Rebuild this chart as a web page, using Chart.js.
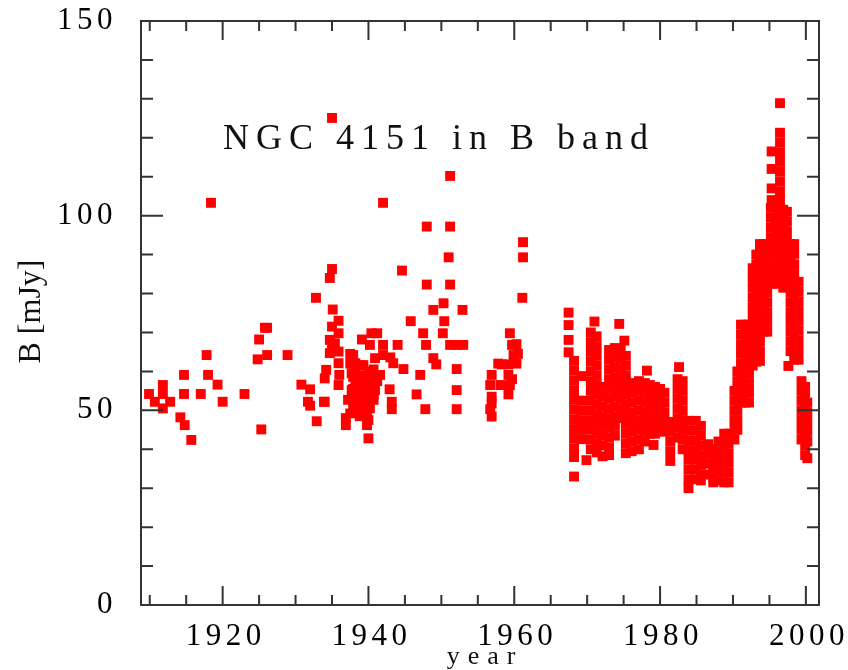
<!DOCTYPE html>
<html>
<head>
<meta charset="utf-8">
<title>NGC 4151 in B band</title>
<script src="https://cdn.jsdelivr.net/npm/chart.js@4.4.1/dist/chart.umd.min.js"></script>
<style>
  html, body { margin: 0; padding: 0; background: #fff; }
</style>
</head>
<body>
<canvas id="mycanvas" width="848" height="670"></canvas>
<script>
// axis setup
var xMin = 1908.8, xMax = 2001.8;
var yMin = 0, yMax = 150;
var xLabelTicks = [1920, 1940, 1960, 1980, 2000];
var xMarks = [1910, 1915, 1920, 1925, 1930, 1935, 1940, 1945, 1950, 1955, 1960, 1965, 1970, 1975, 1980, 1985, 1990, 1995, 2000];
var yLabelTicks = [0, 50, 100, 150];
var yMarks = [10, 20, 30, 40, 50, 60, 70, 80, 90, 100, 110, 120, 130, 140];

// each year holds the B fluxes (mJy) measured around that epoch
var earlyYears = [1909.9, 1910.7, 1911.8, 1912.8, 1914.2, 1914.7, 1914.8, 1915.7, 1917.0, 1917.8,
  1918.0, 1918.4, 1919.3, 1920.0, 1923.0, 1924.8, 1925.0, 1925.3, 1925.8, 1926.1,
  1928.9, 1930.8, 1931.7, 1932.0, 1932.8, 1932.9, 1933.9];
var earlyFlux = [[54.2], [52.2], [56.5, 54.2, 50.5], [52.2], [48.2], [59.1, 54.2], [46.2], [42.4], [54.2], [64.2],
  [59.1], [103.3], [56.6], [52.2], [54.2], [63.1], [68.2], [45.1], [71.2], [71.2, 64.2],
  [64.2], [56.6], [52.2], [55.4, 51.2], [78.9], [47.2], [52.2]];

var plateYears = [1934.0, 1934.2, 1934.7, 1935.0, 1935.1, 1935.4, 1935.9, 1936.0, 1936.9, 1937.2,
  1937.5, 1937.7, 1937.9, 1938.2, 1938.4, 1938.8, 1939.1, 1939.3, 1939.5, 1939.8,
  1940.0, 1940.2, 1940.4, 1940.7, 1940.9, 1941.2, 1941.6, 1942.0, 1942.9, 1943.0,
  1943.2, 1943.4, 1944.0, 1944.6, 1944.8, 1945.8, 1946.6, 1947.1, 1947.5, 1947.8,
  1947.9, 1948.0, 1948.9, 1949.3, 1950.2, 1950.3, 1950.4, 1951.0, 1951.2, 1952.1,
  1952.9, 1953.0, 1956.7, 1956.9, 1957.8, 1958.1, 1958.3, 1959.2, 1959.4, 1959.7,
  1959.9, 1960.3, 1960.5, 1961.1, 1961.2];
var plateFlux = [[58.2, 52.2], [60.4], [84.0, 68.1, 64.7], [125.1, 86.3, 71.5, 66.4], [75.9], [67.2], [73.0, 69.8, 65.1, 62.1, 56.5], [59.1], [48.0, 46.2], [52.7],
  [64.5, 62.0, 49.2], [55.2, 59.5], [64.2, 58.6, 55.5, 53.0, 50.5], [62.1, 60.0, 57.5], [57.0, 54.4, 52.7, 49.5], [56.9, 59.0, 53.5, 51.0, 48.5], [68.2, 61.6], [61.6, 58.5, 55.8, 53.0, 50.5], [53.1, 57.5], [59.0, 57.0, 55.2, 52.5, 49.2, 46.2],
  [47.5, 42.8, 52.0], [66.8, 60.0, 57.8, 55.0, 53.0, 50.5], [69.8, 54.5], [60.5, 58.5, 56.5, 54.0, 52.7], [63.4, 57.8, 55.2], [69.8, 57.5], [59.1], [103.3, 66.8, 64.2], [55.4], [63.6],
  [52.2, 50.3], [62.1], [66.8], [85.9], [60.6], [72.9], [54.1], [59.1], [69.8], [50.3],
  [66.8], [97.2, 82.3], [75.8, 63.4], [61.8], [69.8], [77.5], [72.9], [89.3], [110.2, 97.2, 82.3, 66.8], [66.8, 60.6, 55.2, 50.3],
  [75.8], [66.8], [56.5, 50.3], [59.1, 53.5, 51.8, 48.4], [62.0], [56.5], [61.8], [61.8, 59.1, 54.1], [69.8, 56.5], [66.8, 58.0],
  [64.2], [67.0, 62.0], [64.5], [78.9], [93.2, 89.3]];

var monitorYears = [1967.45, 1968.2, 1969.2, 1969.9, 1970.5, 1971.0, 1971.3, 1972.1, 1973.0, 1973.8,
  1974.4, 1974.6, 1975.1, 1975.3, 1976.1, 1977.1, 1977.9, 1978.2, 1978.6, 1979.1,
  1979.3, 1980.0, 1980.6, 1981.4, 1982.4, 1982.6, 1983.1, 1983.9, 1984.9, 1985.6,
  1986.6, 1987.3, 1988.0, 1988.8];
var monitorFlux = [
  [75.1, 71.9, 68.1, 64.9],
  [62.7, 60.2, 57.7, 55.2, 52.7, 50.2, 47.7, 45.2, 42.7, 40.2, 38.0, 33.0],
  [58.8, 52.5, 50.0, 47.5, 45.0, 42.6],
  [37.2],
  [70.0, 67.5, 65.0, 62.5, 60.0, 57.5, 55.0, 52.5, 50.0, 47.5, 45.0, 42.5, 40.0],
  [72.8],
  [69.0, 66.5, 64.0, 61.5, 59.0, 56.5, 54.0, 51.5, 49.0, 46.5, 44.0, 41.5, 39.2],
  [56.0, 53.5, 51.0, 48.5, 46.0, 43.5, 41.0, 38.2],
  [65.5, 63.0, 60.5, 58.0, 55.5, 53.0, 50.5, 48.0, 45.5, 43.0, 40.5, 38.5],
  [66.0, 63.5, 61.0, 58.5, 56.0, 53.5, 51.0, 48.5, 46.0, 43.5],
  [72.2],
  [65.5, 63.0, 60.5, 58.0, 55.5, 53.0, 50.5, 48.0],
  [67.9],
  [64.0, 61.5, 59.0, 56.5, 54.0, 51.5, 49.0, 46.5, 44.0, 41.5, 39.0],
  [57.0, 54.5, 52.0, 49.5, 47.0, 44.5, 42.0, 39.5],
  [57.5, 55.0, 52.5, 50.0, 47.5, 45.0, 42.5, 40.0],
  [57.0, 54.5, 52.0, 49.5, 47.0, 44.5, 42.0],
  [60.2],
  [56.5, 54.0, 51.5, 49.0, 46.5, 44.0],
  [41.1],
  [56.0, 53.5, 51.0, 48.5, 46.0, 44.0],
  [55.5, 53.0, 50.5, 48.0, 45.5],
  [54.5, 52.0, 49.5, 47.0, 44.5],
  [47.0, 44.5, 42.0, 39.5, 37.0],
  [58.0, 55.5, 53.0, 50.5, 48.0, 45.5, 43.0],
  [61.1],
  [57.5, 55.0, 52.5, 50.0, 47.5, 45.0, 42.5, 40.0],
  [47.3, 44.8, 42.3, 39.8, 37.3, 34.8, 32.3, 30.0],
  [47.3, 44.8, 42.3, 39.8, 37.3, 34.8, 32.3],
  [46.0, 43.5, 41.0, 38.5, 36.0, 33.5, 32.0],
  [41.3, 38.8, 36.3, 33.5],
  [40.0, 37.5, 35.0, 32.5, 31.5],
  [42.0, 39.5, 37.0, 34.5, 32.0],
  [44.0, 41.5, 39.0, 36.5, 34.0, 31.5]];

var outburstYears = [1989.4, 1990.2, 1990.6, 1991.1, 1991.7, 1992.2, 1992.7, 1993.2, 1993.7, 1994.2,
  1994.7, 1995.2, 1995.3, 1995.8, 1996.45, 1996.9, 1997.4, 1997.6, 1997.9, 1998.4,
  1999.0, 1999.4, 1999.9, 2000.2];
var outburstFlux = [
  [44.0, 41.5, 39.0, 36.5, 34.0, 31.5],
  [55.0, 52.5, 50.0, 47.5, 45.0, 42.5],
  [60.0, 57.5, 55.0, 52.5, 50.0, 47.5, 45.0],
  [72.0, 69.5, 67.0, 64.5, 62.0, 59.5, 57.0, 54.5, 52.0],
  [72.0, 69.5, 67.0, 64.5, 62.0, 59.5, 57.0, 54.5, 52.0],
  [72.0, 69.5, 67.0, 64.5, 62.0, 59.5, 57.0, 54.5, 52.0],
  [86.5, 84.0, 81.5, 79.0, 76.5, 74.0, 71.5, 69.0, 66.5, 64.0, 61.5],
  [90.0, 87.5, 85.0, 82.5, 80.0, 77.5, 75.0, 72.5, 70.0, 67.5, 65.0, 62.5],
  [92.7, 90.2, 87.7, 85.2, 82.7, 80.2, 77.7, 75.2, 72.7, 70.2, 67.7, 65.2, 62.7],
  [92.7, 90.2, 87.7, 85.2, 82.7, 80.2, 77.7, 75.2, 72.7, 70.2],
  [92.7, 90.2, 87.7, 85.2, 82.7, 80.2, 77.7, 75.2, 72.7, 70.2],
  [102.0, 99.5, 97.0, 94.5, 92.0, 89.5, 87.0, 84.5, 82.5],
  [116.5, 112.0, 107.0, 104.0],
  [102.0, 99.5, 97.0, 94.5, 92.0, 89.5, 87.0, 84.5, 82.5],
  [128.9, 121.3, 118.8, 116.3, 113.8, 111.3, 108.8, 106.3, 103.8, 101.3, 98.8, 96.3, 93.8, 91.3, 88.8, 86.3, 83.5],
  [101.5, 99.0, 96.5, 94.0, 91.5, 89.0, 86.5, 84.0, 81.5],
  [101.0, 98.5, 96.0, 93.5, 91.0, 88.5, 86.0, 83.5],
  [61.4],
  [92.7, 90.2, 87.7, 85.2, 82.7, 80.2, 77.7, 75.2, 72.7, 70.2, 67.7, 65.2],
  [92.7, 90.2, 87.5, 85.0, 82.5, 80.0, 77.5, 75.0, 72.5, 70.0, 67.5, 65.0, 63.0],
  [83.0, 80.5, 78.0, 75.5, 73.0, 70.5, 68.0, 65.5, 63.0],
  [57.5, 55.0, 52.5, 50.0, 47.5, 45.0, 42.5],
  [56.0, 53.5, 51.0, 48.5, 46.0, 43.5, 41.0, 38.5],
  [52.0, 49.5, 47.0, 44.5, 42.0, 37.7]];

function toPoints(years, flux) {
  var pts = [];
  for (var i in years) {
    for (var j in flux[i]) {
      pts.push({x: years[i], y: flux[i][j]});
    }
  }
  return pts;
}

var points = [].concat(
  toPoints(earlyYears, earlyFlux),
  toPoints(plateYears, plateFlux),
  toPoints(monitorYears, monitorFlux),
  toPoints(outburstYears, outburstFlux)
);

var serif = 'Liberation Serif';

// wide lettering for the tick numbers
var tickSpacing = {
  id: 'tickSpacing',
  beforeDraw: function(chart) {
    chart.ctx.letterSpacing = '4.5px';
  }
};

// box round the plot with inward ticks on all four sides
var frame = {
  id: 'frame',
  afterDatasetsDraw: function(chart) {
    var ctx = chart.ctx, a = chart.chartArea;
    var xs = chart.scales.x, ys = chart.scales.y;
    ctx.save();
    ctx.strokeStyle = '#333';
    ctx.lineWidth = 2;
    ctx.strokeRect(a.left, a.top, a.right - a.left, a.bottom - a.top);
    ctx.beginPath();
    xMarks.forEach(function(v) {
      var px = xs.getPixelForValue(v);
      var len = xLabelTicks.indexOf(v) >= 0 ? 19 : 10;
      ctx.moveTo(px, a.bottom); ctx.lineTo(px, a.bottom - len);
      ctx.moveTo(px, a.top); ctx.lineTo(px, a.top + len);
    });
    yMarks.forEach(function(v) {
      var py = ys.getPixelForValue(v);
      var len = yLabelTicks.indexOf(v) >= 0 ? 22 : 12;
      ctx.moveTo(a.left, py); ctx.lineTo(a.left + len, py);
      ctx.moveTo(a.right, py); ctx.lineTo(a.right - len, py);
    });
    ctx.stroke();
    ctx.restore();
  }
};

// plot caption and axis names
var captions = {
  id: 'captions',
  afterDraw: function(chart) {
    var ctx = chart.ctx;
    var xs = chart.scales.x, ys = chart.scales.y;
    ctx.save();
    ctx.fillStyle = '#111';
    ctx.textBaseline = 'alphabetic';
    ctx.textAlign = 'left';
    ctx.font = '36px "' + serif + '"';
    ctx.letterSpacing = '7px';
    ctx.fillText('NGC 4151 in B band', xs.getPixelForValue(1920.05), ys.getPixelForValue(117));

    ctx.textAlign = 'center';
    ctx.font = '26px "' + serif + '"';
    ctx.letterSpacing = '8px';
    ctx.fillText('year', (xs.left + xs.right) / 2 + 5, 664);

    ctx.font = '32px "' + serif + '"';
    ctx.letterSpacing = '0px';
    ctx.translate(40, 311.5);
    ctx.rotate(-Math.PI / 2);
    ctx.fillText('B [mJy]', 0, 0);
    ctx.restore();
  }
};

var ctx = document.getElementById('mycanvas');

var chart = new Chart(ctx, {
  type: 'scatter',
  data: {
    datasets: [{
      label: 'NGC 4151 B band',
      data: points,
      pointStyle: 'rect',
      pointRadius: 7,
      pointHoverRadius: 7,
      backgroundColor: '#ff0000',
      borderWidth: 0
    }]
  },
  options: {
    responsive: false,
    animation: false,
    events: [],
    layout: { padding: { top: 21, right: 29, bottom: 0, left: 0 } },
    plugins: {
      legend: { display: false },
      tooltip: { enabled: false }
    },
    scales: {
      x: {
        type: 'linear',
        min: xMin,
        max: xMax,
        grid: { display: false },
        border: { display: false },
        afterBuildTicks: function(scale) {
          scale.ticks = xLabelTicks.map(function(v) { return {value: v}; });
        },
        afterFit: function(scale) {
          scale.height = 65;
          scale.paddingLeft = 0;
          scale.paddingRight = 0;
        },
        ticks: {
          autoSkip: false,
          maxRotation: 0,
          padding: 8,
          labelOffset: 3,
          color: '#000',
          font: { family: serif, size: 31, lineHeight: 1 },
          callback: function(v) { return String(v); }
        }
      },
      y: {
        min: yMin,
        max: yMax,
        grid: { display: false },
        border: { display: false },
        afterBuildTicks: function(scale) {
          scale.ticks = yLabelTicks.map(function(v) { return {value: v}; });
        },
        afterFit: function(scale) {
          scale.width = 141;
          scale.paddingTop = 0;
          scale.paddingBottom = 0;
        },
        ticks: {
          padding: 16,
          color: '#000',
          font: { family: serif, size: 31, lineHeight: 1 },
          callback: function(v) { return String(v); }
        }
      }
    }
  },
  plugins: [tickSpacing, frame, captions]
});
</script>
</body>
</html>
